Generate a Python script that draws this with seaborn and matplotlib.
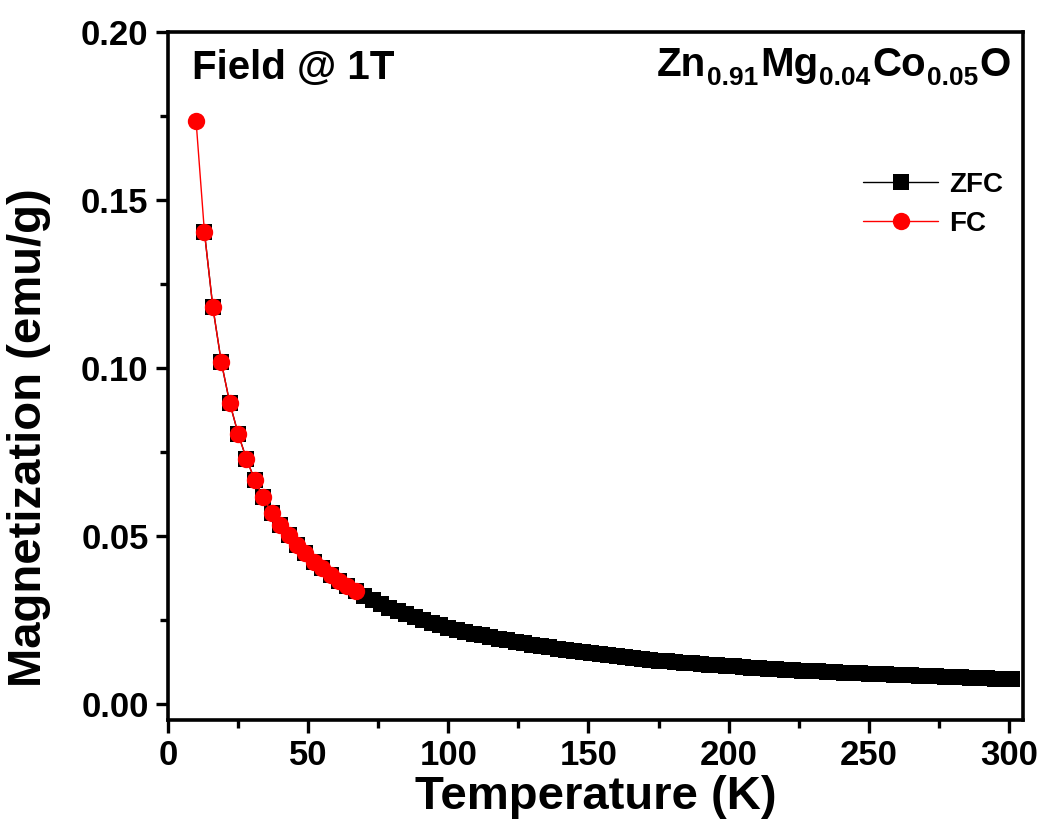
import matplotlib
matplotlib.use("Agg")
import matplotlib.pyplot as plt
import seaborn as sns
import pandas as pd
from matplotlib.ticker import MultipleLocator

# Field-cooled branch (K, emu/g)
T_fc = [10, 13, 16, 19, 22, 25, 28, 31, 34, 37, 40, 43, 46, 49, 52, 55, 58, 61, 64, 67]
M_fc = [0.1735, 0.1403, 0.1180, 0.1017, 0.0896, 0.0804, 0.0728, 0.0665, 0.0614, 0.0568,
        0.0532, 0.0502, 0.0472, 0.0448, 0.0423, 0.0403, 0.0383, 0.0366, 0.0351, 0.0336]

# Zero-field-cooled branch (K, emu/g)
T_zfc = [13, 16, 19, 22, 25, 28, 31, 34, 37, 40, 43, 46, 49, 52, 55, 58, 61, 64, 67,
         70, 73, 76, 79, 82, 85, 88, 91, 94, 97, 100, 103, 106, 109, 112, 115, 118, 121,
         124, 127, 130, 133, 136, 139, 142, 145, 148, 151, 154, 157, 160, 163, 166, 169,
         172, 175, 178, 181, 184, 187, 190, 193, 196, 199, 202, 205, 208, 211, 214, 217,
         220, 223, 226, 229, 232, 235, 238, 241, 244, 247, 250, 253, 256, 259, 262, 265,
         268, 271, 274, 277, 280, 283, 286, 289, 292, 295, 298, 301]
M_zfc = [0.1403, 0.1180, 0.1017, 0.0896, 0.0804, 0.0728, 0.0665, 0.0614, 0.0568, 0.0532,
         0.0502, 0.0472, 0.0448, 0.0423, 0.0403, 0.0383, 0.0366, 0.0351, 0.0336,
         0.0322, 0.0309, 0.0297, 0.0286, 0.0276, 0.0266, 0.0257, 0.0249, 0.0241, 0.0234,
         0.0227, 0.0221, 0.0215, 0.0209, 0.0204, 0.0199, 0.0194, 0.0189, 0.0185, 0.0180,
         0.0176, 0.0172, 0.0168, 0.0164, 0.0161, 0.0157, 0.0154, 0.0151, 0.0148, 0.0145,
         0.0142, 0.0139, 0.0137, 0.0134, 0.0132, 0.0129, 0.0127, 0.0125, 0.0123, 0.0121,
         0.0119, 0.0117, 0.0115, 0.0113, 0.0112, 0.0110, 0.0108, 0.0107, 0.0105, 0.0104,
         0.0102, 0.0101, 0.0099, 0.0098, 0.0097, 0.0095, 0.0094, 0.0093, 0.0092, 0.0091,
         0.0090, 0.0089, 0.0088, 0.0087, 0.0086, 0.0085, 0.0084, 0.0083, 0.0082, 0.0081,
         0.0080, 0.0079, 0.0078, 0.0077, 0.0076, 0.0075, 0.0074, 0.0073]

x_ticks = [0, 50, 100, 150, 200, 250, 300]
y_ticks = [0.00, 0.05, 0.10, 0.15, 0.20]

# Sample composition: (element, stoichiometric subscript)
formula = [("Zn", "0.91"), ("Mg", "0.04"), ("Co", "0.05"), ("O", "")]

sns.set_theme(style="ticks")
plt.rcParams["font.family"] = ["Liberation Sans", "DejaVu Sans"]
plt.rcParams["font.weight"] = "bold"
plt.rcParams["text.color"] = "black"
plt.rcParams["axes.labelcolor"] = "black"

df_zfc = pd.DataFrame({"T": T_zfc, "M": M_zfc})
df_fc = pd.DataFrame({"T": T_fc, "M": M_fc})

W, H = 1039, 832
fig = plt.figure(figsize=(W / 100, H / 100), dpi=100)
ax = fig.add_axes([0.1617, 0.1346, 0.9846 - 0.1617, 0.9621 - 0.1346])

sns.lineplot(data=df_zfc, x="T", y="M", ax=ax, color="black", marker="s",
             markersize=12, markeredgecolor="black", markeredgewidth=0,
             linewidth=1.0, label="ZFC", sort=False)
sns.lineplot(data=df_fc, x="T", y="M", ax=ax, color="#ff0000", marker="o",
             markersize=12.5, markeredgecolor="#ff0000", markeredgewidth=0,
             linewidth=1.0, label="FC", sort=False)

ax.set_xlim(0, 305)
ax.set_ylim(-0.0048, 0.2)
ax.set_xticks(x_ticks)
ax.set_yticks(y_ticks)
ax.set_xticklabels([f"{v:d}" for v in x_ticks])
ax.set_yticklabels([f"{v:.2f}" for v in y_ticks])
ax.xaxis.set_minor_locator(MultipleLocator(25))
ax.yaxis.set_minor_locator(MultipleLocator(0.025))

for side in ["left", "right", "top", "bottom"]:
    ax.spines[side].set_linewidth(2.6)
    ax.spines[side].set_color("black")
ax.tick_params(which="major", direction="out", length=9, width=2.4,
               labelsize=25, colors="black", pad=5)
ax.tick_params(which="minor", direction="out", length=5.5, width=2.4, colors="black")
ax.tick_params(top=False, right=False, which="both")
for lab in ax.get_xticklabels() + ax.get_yticklabels():
    lab.set_fontweight("bold")

ax.set_xlabel("Temperature (K)", fontsize=34, fontweight="bold", labelpad=2)
ax.set_ylabel("Magnetization (emu/g)", fontsize=34, fontweight="bold")
ax.yaxis.set_label_coords(-0.137, 0.41)

ax.text(0.028, 0.975, "Field @ 1T", transform=ax.transAxes, fontsize=29,
        fontweight="bold", ha="left", va="top")

# Chemical formula with lowered subscripts, laid out piece by piece
renderer = fig.canvas.get_renderer()
x_px = 657.0
base_px = H - 76.0
for elem, sub in formula:
    t = fig.text(x_px / W, base_px / H, elem, fontsize=29, fontweight="bold",
                 ha="left", va="baseline")
    x_px = t.get_window_extent(renderer).x1 + 1
    if sub:
        s = fig.text(x_px / W, (base_px - 9) / H, sub, fontsize=19, fontweight="bold",
                     ha="left", va="baseline")
        x_px = s.get_window_extent(renderer).x1 + 1.5

leg = ax.legend(loc="upper right", bbox_to_anchor=(0.99, 0.812), borderaxespad=0,
                frameon=False, fontsize=20, handlelength=2.7, handletextpad=0.4,
                labelspacing=0.45)
for t in leg.get_texts():
    t.set_fontweight("bold")

ax.set_facecolor("white")
fig.patch.set_facecolor("white")
fig.savefig("out.png", dpi=100)
